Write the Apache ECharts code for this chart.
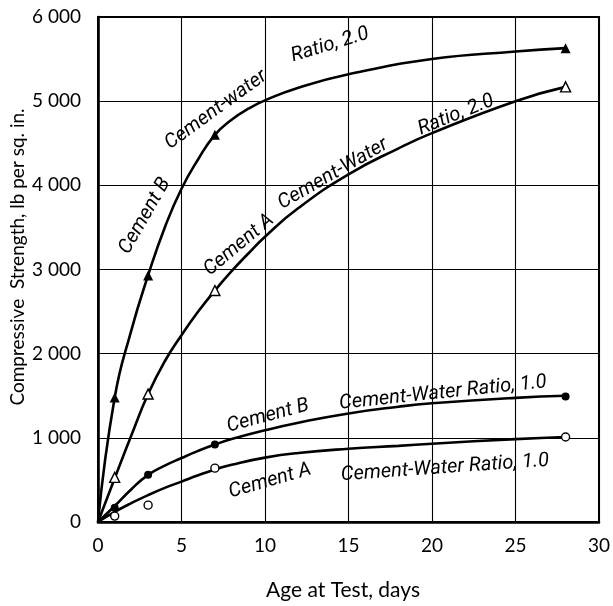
<!DOCTYPE html>
<html>
<head>
<meta charset="utf-8">
<script src="https://cdn.jsdelivr.net/npm/echarts@6/dist/echarts.min.js"></script>
<style>html,body{margin:0;padding:0;background:#fff}#c{width:613px;height:606px}</style>
</head>
<body>
<div id="c"></div>
<script>
// Axis ticks
var xTicks = [0, 5, 10, 15, 20, 25, 30];
var yTicks = [0, 1000, 2000, 3000, 4000, 5000, 6000];
var yTickLabels = ['0', '1 000', '2 000', '3 000', '4 000', '5 000', '6 000'];

// Fitted curves [age (days), strength]
var curveB2 = [[0,0],[1,1480],[2,2280],[3,2930],[4,3500],[5,3960],[6,4310],[7,4600],[8,4780],[9,4910],[10,5010],[12,5160],[15,5320],[20,5500],[25,5590],[28,5630]];
var curveA2 = [[0,0],[1,520],[2,1030],[3,1520],[4,1910],[5,2220],[6,2500],[7,2750],[8,2980],[9,3190],[10,3390],[12,3730],[15,4130],[18,4440],[20,4620],[25,5000],[28,5170]];
var curveB1 = [[0,0],[1,190],[2,390],[3,560],[4,670],[5,760],[6,845],[7,920],[8,985],[10,1090],[12,1180],[15,1290],[18,1370],[20,1410],[25,1475],[28,1500]];
var curveA1 = [[0,0],[1,120],[2,225],[3,320],[4,405],[5,480],[6,555],[7,625],[8,680],[10,765],[12,820],[15,870],[18,905],[20,930],[25,985],[28,1010]];

// Test points
var ptsB2 = [[1,1480],[3,2930],[7,4600],[28,5630]];
var ptsA2 = [[1,530],[3,1520],[7,2750],[28,5170]];
var ptsB1 = [[1,170],[3,560],[7,920],[28,1490]];
var ptsA1 = [[1,70],[3,200],[7,640],[28,1010]];

var labelFont = 'italic 20px Roboto, "Liberation Sans", sans-serif';
var axisFont = '"Lato", "DejaVu Sans", sans-serif';

function curve(data) {
  return {type:'line', data:data, smooth:0.5, showSymbol:false, symbol:'none',
    lineStyle:{color:'#000', width:2.6}, z:3, silent:true};
}
function pts(data, symbol, filled, size) {
  return {type:'scatter', data:data, symbol:symbol, symbolSize:size,
    itemStyle:{color: filled ? '#000' : '#fff', borderColor:'#000', borderWidth: filled ? 0 : 1.4, opacity:1},
    z:5, silent:true};
}
function txt(s, x, y, deg) {
  return {type:'text', x:x, y:y, rotation: deg*Math.PI/180, z:10,
    style:{text:s, font:labelFont, fill:'#000', align:'center', verticalAlign:'middle'}};
}

var chart = echarts.init(document.getElementById('c'), null, {renderer:'canvas'});
chart.setOption({
  animation:false,
  backgroundColor:'#fff',
  grid:{left:98, right:11, top:17, bottom:84, show:true, borderColor:'#000', borderWidth:2, backgroundColor:'transparent'},
  xAxis:{type:'value', min:0, max:30, interval:5,
    axisLine:{show:true, lineStyle:{color:'#000', width:2.6}},
    axisTick:{show:false},
    splitLine:{show:true, lineStyle:{color:'#000', width:1.1}},
    axisLabel:{color:'#000', fontSize:19, fontFamily:axisFont, margin:14}
  },
  yAxis:{type:'value', min:0, max:6000, interval:1000,
    axisLine:{show:true, lineStyle:{color:'#000', width:2.6}},
    axisTick:{show:false},
    splitLine:{show:true, lineStyle:{color:'#000', width:1.1}},
    axisLabel:{color:'#000', fontSize:19, fontFamily:axisFont, margin:17,
      formatter:function(v){ var i = yTicks.indexOf(v); return i >= 0 ? yTickLabels[i] : ''; }}
  },
  graphic:[
    {type:'text', x:18, y:257, rotation:Math.PI/2, style:{text:'Compressive  Strength, lb per sq. in.', font:'19px ' + axisFont, fill:'#000', align:'center', verticalAlign:'middle'}},
    {type:'text', x:343, y:590, style:{text:'Age at Test, days', font:'21px ' + axisFont, fill:'#000', align:'center', verticalAlign:'middle'}},
    txt('Cement B', 145, 216, 60),
    txt('Cement-water', 216, 110, 36),
    txt('Ratio, 2.0', 330, 45, 17),
    txt('Cement A', 239, 245, 40),
    txt('Cement-Water', 333, 174, 30),
    txt('Ratio, 2.0', 456, 115, 22),
    txt('Cement B', 268, 416, 15),
    txt('Cement-Water Ratio, 1.0', 443, 393, 6),
    txt('Cement A', 270, 481, 16),
    txt('Cement-Water Ratio, 1.0', 445, 468, 4)
  ],
  series:[
    curve(curveB2), curve(curveA2), curve(curveB1), curve(curveA1),
    pts(ptsB2, 'triangle', true, 10),
    pts(ptsA2, 'triangle', false, 10),
    pts(ptsB1, 'circle', true, 8),
    pts(ptsA1, 'circle', false, 8)
  ]
});
</script>
</body>
</html>
